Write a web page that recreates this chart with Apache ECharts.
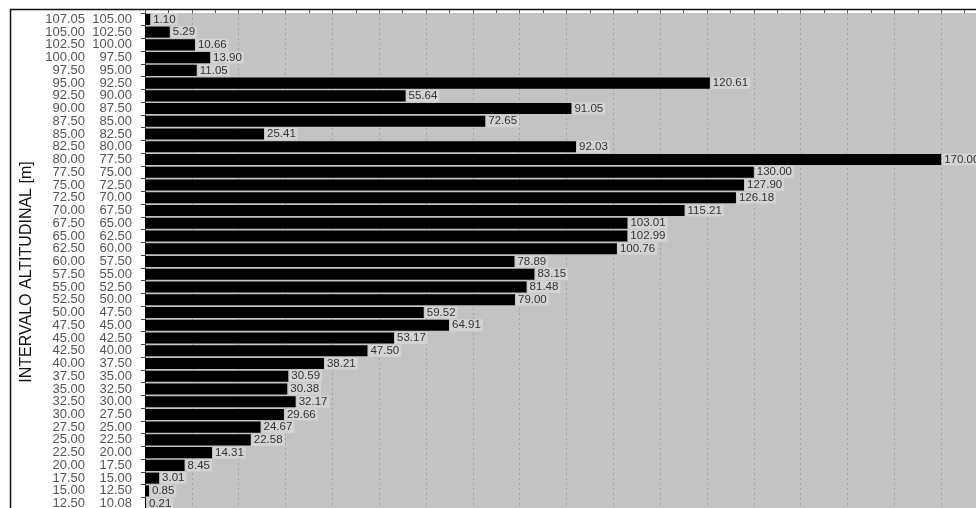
<!DOCTYPE html>
<html>
<head>
<meta charset="utf-8">
<script src="https://cdn.jsdelivr.net/npm/echarts@6/dist/echarts.min.js"></script>
<style>html,body{margin:0;padding:0;background:#fff;}#chart{width:976px;height:508px;}</style>
</head>
<body>
<div id="chart"></div>
<script>
const upperBounds = ['107.05','105.00','102.50','100.00','97.50','95.00','92.50','90.00','87.50','85.00','82.50','80.00','77.50','75.00','72.50','70.00','67.50','65.00','62.50','60.00','57.50','55.00','52.50','50.00','47.50','45.00','42.50','40.00','37.50','35.00','32.50','30.00','27.50','25.00','22.50','20.00','17.50','15.00','12.50'];
const lowerBounds = ['105.00','102.50','100.00','97.50','95.00','92.50','90.00','87.50','85.00','82.50','80.00','77.50','75.00','72.50','70.00','67.50','65.00','62.50','60.00','57.50','55.00','52.50','50.00','47.50','45.00','42.50','40.00','37.50','35.00','32.50','30.00','27.50','25.00','22.50','20.00','17.50','15.00','12.50','10.08'];
const areaValues = [1.10,5.29,10.66,13.90,11.05,120.61,55.64,91.05,72.65,25.41,92.03,170.00,130.00,127.90,126.18,115.21,103.01,102.99,100.76,78.89,83.15,81.48,79.00,59.52,64.91,53.17,47.50,38.21,30.59,30.38,32.17,29.66,24.67,22.58,14.31,8.45,3.01,0.85,0.21];
const axisTitle = 'INTERVALO ALTITUDINAL [m]';

const categories = upperBounds.map((u, i) => u + '|' + lowerBounds[i]);

const chart = echarts.init(document.getElementById('chart'), null, {renderer: 'canvas'});
chart.setOption({
  animation: false,
  backgroundColor: '#ffffff',
  grid: {
    left: 145, top: 13, width: 843, height: 497,
    outerBoundsMode: 'none', containLabel: false,
    show: true, backgroundColor: '#c3c3c3', borderWidth: 0
  },
  xAxis: {
    type: 'value', position: 'top', min: 0, max: 180, interval: 10,
    axisLine: {show: false},
    axisTick: {show: true, length: 3, lineStyle: {color: '#555'}},
    minorTick: {show: true, splitNumber: 2, length: 3, lineStyle: {color: '#555'}},
    axisLabel: {show: false},
    splitLine: {show: true, lineStyle: {color: '#a0a0a0', type: [2, 3], width: 1}}
  },
  yAxis: {
    type: 'category', data: categories, inverse: true,
    axisLine: {show: true, lineStyle: {color: '#555'}},
    axisTick: {show: true, length: 4, lineStyle: {color: '#444'}},
    axisLabel: {
      interval: 0,
      margin: 13,
      formatter: v => { const p = v.split('|'); return '{a|' + p[0] + '}{b|' + p[1] + '}'; },
      rich: {
        a: {width: 45, align: 'right', fontSize: 13, lineHeight: 13, fontFamily: 'Arial, Liberation Sans', color: '#555555'},
        b: {width: 47, align: 'right', fontSize: 13, lineHeight: 13, fontFamily: 'Arial, Liberation Sans', color: '#555555'}
      }
    },
    splitLine: {show: false}
  },
  series: [{
    type: 'bar', data: areaValues,
    barCategoryGap: '13%',
    itemStyle: {color: '#000000'},
    label: {
      show: true, position: 'right', distance: 1,
      formatter: p => p.value.toFixed(2),
      fontSize: 11.5, fontFamily: 'Arial, Liberation Sans', color: '#333333',
      backgroundColor: '#d3d3d3', padding: [0, 2, 0, 2]
    }
  }],
  graphic: [
    {type: 'line', shape: {x1: 10, y1: 9.5, x2: 976, y2: 9.5}, style: {stroke: '#111', lineWidth: 1.5}},
    {type: 'line', shape: {x1: 10.5, y1: 9, x2: 10.5, y2: 508}, style: {stroke: '#111', lineWidth: 1.5}},
    {type: 'text', x: 27, y: 272, rotation: Math.PI / 2,
     style: {text: axisTitle, fontSize: 16, fontFamily: 'Arial, Liberation Sans', fill: '#111', align: 'center', verticalAlign: 'middle'}}
  ]
});
</script>
</body>
</html>
